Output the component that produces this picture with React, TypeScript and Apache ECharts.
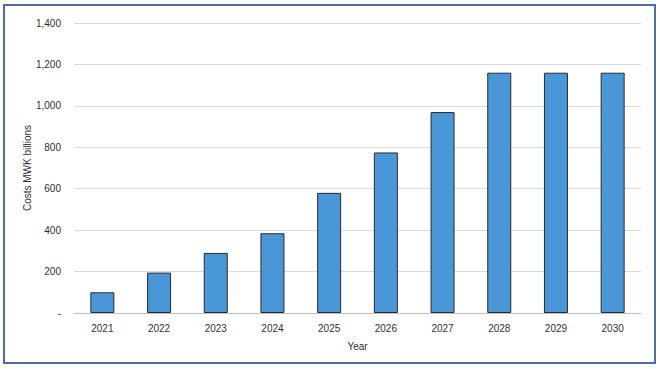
import React, { useEffect, useRef } from "react";
import * as echarts from "echarts";

const years = ["2021", "2022", "2023", "2024", "2025", "2026", "2027", "2028", "2029", "2030"];
const costs = [100, 195, 290, 385, 580, 775, 970, 1160, 1160, 1160];
const yTicks = [0, 200, 400, 600, 800, 1000, 1200, 1400];

export default function App() {
  const ref = useRef<HTMLDivElement>(null);
  useEffect(() => {
    if (!ref.current) return;
    const chart = echarts.init(ref.current, null, { renderer: "svg" });
    const font = "Liberation Sans, Arial, sans-serif";
    const txt = "#2f2f2f";
    chart.setOption({
      animation: false,
      backgroundColor: "#ffffff",
      graphic: [
        {
          type: "rect",
          shape: { x: 4, y: 5, width: 651, height: 358 },
          style: { fill: "none", stroke: "#4e6f9e", lineWidth: 2 },
        },
      ],
      grid: { left: 74, right: 19, top: 23, bottom: 56 },
      xAxis: {
        type: "category",
        data: years,
        name: "Year",
        nameLocation: "middle",
        nameGap: 28,
        nameMoveOverlap: false,
        nameTextStyle: { fontFamily: font, fontSize: 10, color: txt },
        axisLine: { lineStyle: { color: "#bfbfbf", width: 1 } },
        axisTick: { show: false },
        axisLabel: { fontFamily: font, fontSize: 10, color: txt, margin: 10 },
      },
      yAxis: {
        type: "value",
        min: 0,
        max: 1400,
        interval: 200,
        name: "Costs MWK billions",
        nameLocation: "middle",
        nameGap: 42,
        nameMoveOverlap: false,
        nameTextStyle: { fontFamily: font, fontSize: 10, color: txt },
        axisLine: { show: false },
        axisTick: { show: false },
        splitLine: { lineStyle: { color: "#d9d9d9", width: 1 } },
        axisLabel: {
          fontFamily: font,
          fontSize: 10,
          color: txt,
          margin: 13,
          formatter: (v: number) =>
            yTicks.includes(v) ? (v === 0 ? "-" : v.toLocaleString("en-US")) : "",
        },
      },
      series: [
        {
          type: "bar",
          data: costs,
          barWidth: 24,
          itemStyle: { color: "#4a97d8", borderColor: "#2a2a2a", borderWidth: 1 },
        },
      ],
    });
    return () => chart.dispose();
  }, []);
  return (
    <div
      ref={ref}
      style={{ position: "fixed", left: 0, top: 0, width: 660, height: 369 }}
    />
  );
}
